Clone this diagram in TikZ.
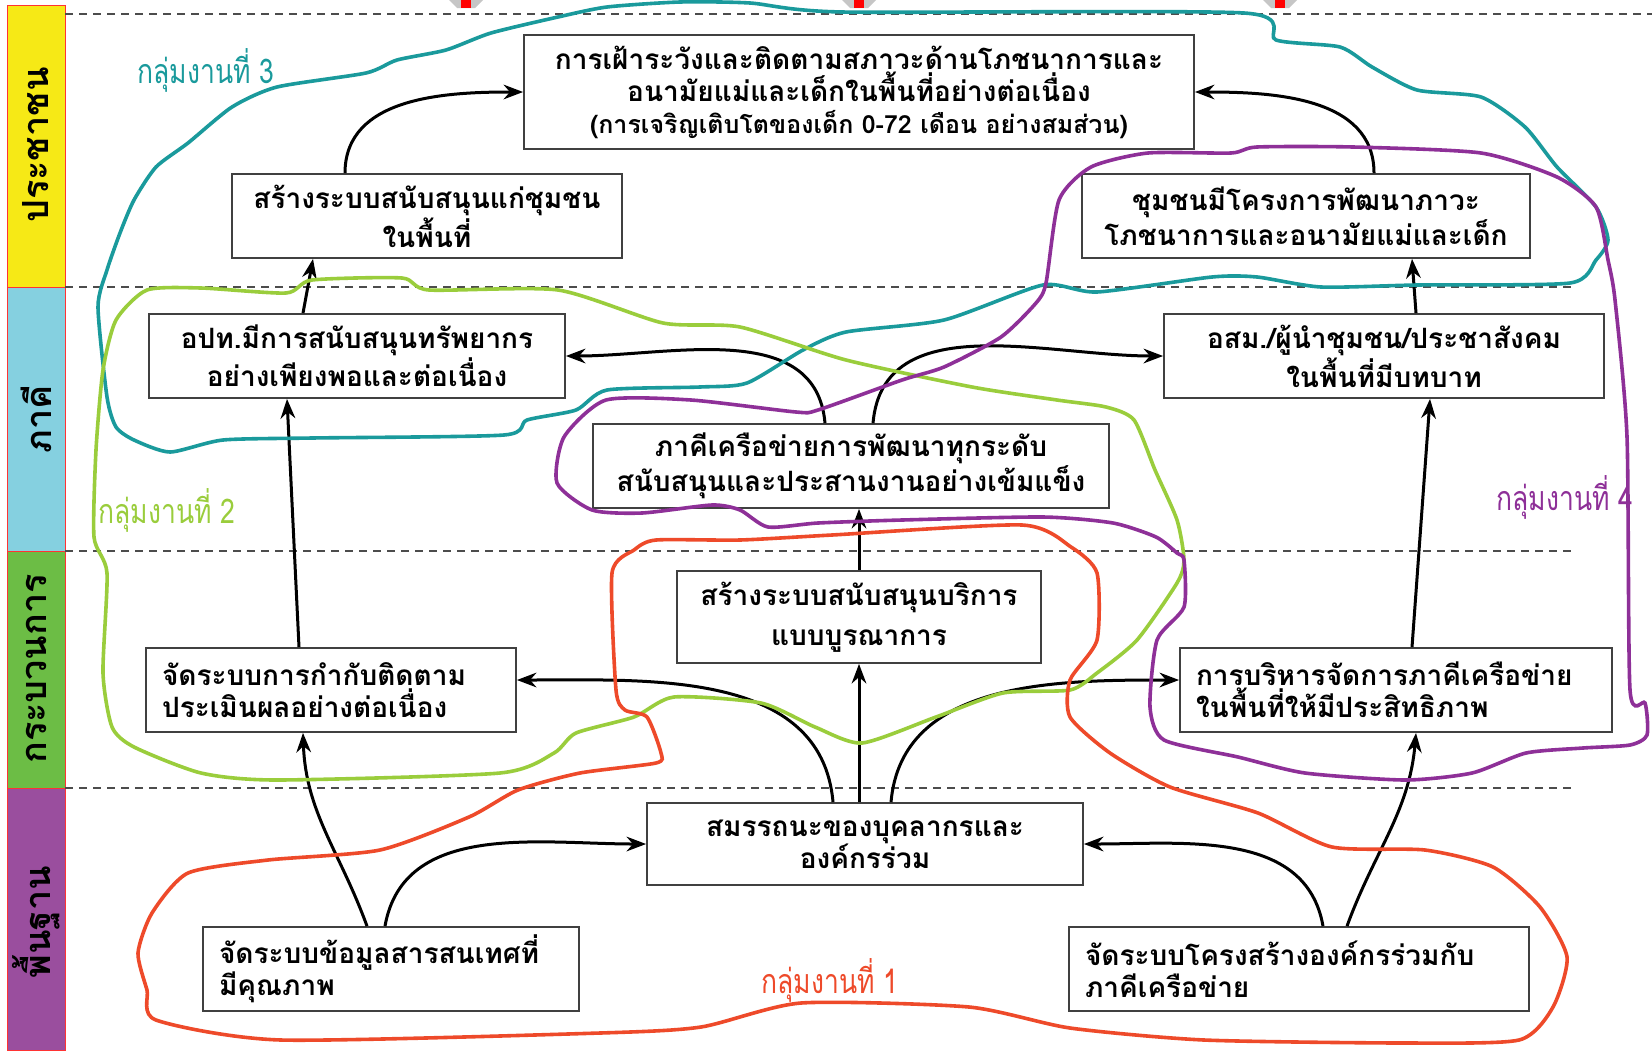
\documentclass[tikz,border=0pt]{standalone}
\usepackage{fontspec}
\newfontfamily\thaifont[Script=Thai]{Loma}
\newfontfamily\grpfont[Script=Thai,FakeStretch=0.78]{Loma}
\usetikzlibrary{arrows.meta, calc}
\definecolor{bandY}{HTML}{F6E916}
\definecolor{bandC}{HTML}{85D0E0}
\definecolor{bandG}{HTML}{6CBD45}
\definecolor{bandP}{HTML}{9A4E9E}
\definecolor{grpT}{HTML}{1A9A9C}
\definecolor{grpG}{HTML}{9ACD3C}
\definecolor{grpR}{HTML}{EE4A2A}
\definecolor{grpP}{HTML}{8E3098}

\begin{document}
\begin{tikzpicture}[>=Stealth, x=0.5pt, y=-0.5pt,
  box/.style={draw=black!75, line width=0.9pt, fill=white, inner sep=0, align=center,
    font=\thaifont\bfseries\fontsize{14}{16}\selectfont},
  lbox/.style={box, align=left, inner xsep=8pt},
  flow/.style={->, line width=1.5pt},
  sep/.style={dashed, gray!60!black, line width=0.9pt, dash pattern=on 4pt off 3pt},
  bandlbl/.style={rotate=90, font=\thaifont\bfseries\fontsize{18}{18}\selectfont},
  grp/.style={line width=1.8pt},
  grplbl/.style={font=\grpfont\fontsize{17}{17}\selectfont}]
  \useasboundingbox (0,0) rectangle (1652,1050);
  \fill[white] (0,0) rectangle (1652,1050);
  % bands
  \foreach \ya/\yb/\c in {5/287/bandY, 287/551/bandC, 551/788/bandG, 788/1050/bandP}{
    \filldraw[fill=\c, draw=red!80, line width=0.5pt] (7,\ya) rectangle (65,\yb);
  }
  \node[bandlbl] (people) at (36,145) {ประชาชน};
  \node[bandlbl] (partners) at (36,419) {ภาคี};
  \node[bandlbl] (process) at (36,669) {กระบวนการ};
  \node[bandlbl] (basis) at (36,922) {พื้นฐาน};
  \draw[sep] (65,14) -- (1652,14);
  \foreach \y in {287,551,788}{ \draw[sep] (65,\y) -- (1575,\y); }
  \foreach \x in {466,859,1280}{
    \fill[gray!45] (\x-17,0) -- (\x+17,0) -- (\x+9,8) -- (\x-9,8) -- cycle;
    \fill[red] (\x-5,0) rectangle (\x+5,8);
  }
  % nodes
  \node[box, minimum width=335pt, minimum height=57pt] (watch) at (859,92)
    {การเฝ้าระวังและติดตามสภาวะด้านโภชนาการและ\\อนามัยแม่และเด็กในพื้นที่อย่างต่อเนื่อง\\
     {\fontsize{12.5}{16}\selectfont(การเจริญเติบโตของเด็ก 0-72 เดือน อย่างสมส่วน)}};
  \node[box, minimum width=195pt, minimum height=42pt] (commsup) at (427,216)
    {สร้างระบบสนับสนุนแก่ชุมชน\\ในพื้นที่};
  \node[box, minimum width=224pt, minimum height=42pt] (commproj) at (1306,216)
    {ชุมชนมีโครงการพัฒนาภาวะ\\โภชนาการและอนามัยแม่และเด็ก};
  \node[box, minimum width=208pt, minimum height=42pt] (lao) at (357,356)
    {อปท.มีการสนับสนุนทรัพยากร\\อย่างเพียงพอและต่อเนื่อง};
  \node[box, minimum width=220pt, minimum height=42pt] (vhv) at (1384,356)
    {อสม./ผู้นำชุมชน/ประชาสังคม\\ในพื้นที่มีบทบาท};
  \node[box, minimum width=258pt, minimum height=42pt] (partner) at (851,466)
    {ภาคีเครือข่ายการพัฒนาทุกระดับ\\สนับสนุนและประสานงานอย่างเข้มแข็ง};
  \node[box, minimum width=182pt, minimum height=46pt] (service) at (859,617)
    {สร้างระบบสนับสนุนบริการ\\[4pt]แบบบูรณาการ};
  \node[lbox, text width=169pt, minimum height=42pt] (evalsys) at (331,690)
    {จัดระบบการกำกับติดตาม\\ประเมินผลอย่างต่อเนื่อง};
  \node[lbox, text width=200pt, minimum height=42pt] (netmgmt) at (1396,690)
    {การบริหารจัดการภาคีเครือข่าย\\ในพื้นที่ให้มีประสิทธิภาพ};
  \node[box, minimum width=218pt, minimum height=41pt] (staff) at (865,844)
    {สมรรถนะของบุคลากรและ\\องค์กรร่วม};
  \node[lbox, text width=172pt, minimum height=42pt] (infosys) at (391,969)
    {จัดระบบข้อมูลสารสนเทศที่\\มีคุณภาพ};
  \node[lbox, text width=214pt, minimum height=42pt] (orgstruct) at (1299,969)
    {จัดระบบโครงสร้างองค์กรร่วมกับ\\ภาคีเครือข่าย};
  % arrows
  \draw[flow] ([xshift=-41pt]commsup.north) to[out=90,in=180] (watch.west);
  \draw[flow] ([xshift=34pt]commproj.north) to[out=90,in=0] (watch.east);
  \draw[flow] ([xshift=-27pt]lao.north) -- ([xshift=-57pt]commsup.south);
  \draw[flow] ([xshift=16pt]vhv.north) -- ([xshift=53pt]commproj.south);
  \draw[flow] ([xshift=-13pt]partner.north) to[out=95,in=0] (lao.east);
  \draw[flow] ([xshift=11pt]partner.north) to[out=85,in=180] (vhv.west);
  \draw[flow] ([xshift=-16pt]evalsys.north) -- ([xshift=-35pt]lao.south);
  \draw[flow] ([xshift=8pt]netmgmt.north) -- ([xshift=23pt]vhv.south);
  \draw[flow] (service.north) -- (service.north |- partner.south);
  \draw[flow] ([xshift=-16pt]staff.north) to[out=95,in=0] ([yshift=5pt]evalsys.east);
  \draw[flow] (service.south |- staff.north) -- (service.south);
  \draw[flow] ([xshift=13pt]staff.north) to[out=85,in=180] ([yshift=5pt]netmgmt.west);
  \draw[flow] ([xshift=-12pt]infosys.north) to[out=110,in=-88] ([xshift=-14pt]evalsys.south);
  \draw[flow] ([xshift=-3pt]infosys.north) to[out=80,in=180] (staff.west);
  \draw[flow] ([xshift=12pt]orgstruct.north) to[out=100,in=0] (staff.east);
  \draw[flow] ([xshift=24pt]orgstruct.north) to[out=70,in=-95] ([xshift=10pt]netmgmt.south);
  % work groups
  \draw[grp, grpT] plot[smooth cycle, tension=0.4] coordinates {(607,7) (680,2) (750,3) (842,12)
    (1244,13) (1276,40) (1340,47) (1372,67) (1417,90) (1481,97) (1525,127) (1557,167) (1596,207)
    (1608,240) (1596,260) (1570,283) (1417,285) (1321,287) (1257,277) (1212,277) (1097,292)
    (1043,285) (944,320) (846,332) (803,350) (747,383) (700,387) (607,390) (576,410) (527,420)
    (504,435) (312,438) (223,440) (170,452) (134,440) (116,427) (107,397) (98,307) (107,270)
    (120,233) (134,200) (156,167) (188,143) (232,107) (277,87) (366,73) (397,60) (446,50)
    (491,33) (558,17)};
  \draw[grp, grpG] plot[smooth cycle, tension=0.4] coordinates {(147,290) (201,288) (286,293)
    (312,280) (402,278) (429,290) (558,290) (663,323) (740,327) (846,360) (972,387) (1057,400)
    (1106,407) (1134,420) (1155,470) (1177,520) (1184,560) (1177,583) (1137,640) (1097,673)
    (1070,690) (1003,693) (936,717) (862,743) (815,727) (761,703) (674,697) (634,717) (576,733)
    (554,753) (500,773) (277,780) (201,773) (134,747) (112,727) (103,673) (107,573) (94,537)
    (96,450) (103,370) (116,320)};
  \draw[grp, grpR] plot[smooth cycle, tension=0.4] coordinates {(656,540) (740,540) (832,535)
    (1022,525) (1071,547) (1097,573) (1097,640) (1070,680) (1070,717) (1110,753) (1170,787)
    (1258,813) (1332,847) (1425,850) (1493,867) (1540,907) (1567,957) (1553,1007) (1519,1040)
    (1405,1043) (1204,1040) (1070,1028) (969,1007) (801,1003) (701,1027) (600,1033) (281,1040)
    (156,1020) (147,990) (138,953) (152,913) (188,873) (268,860) (380,850) (469,817) (518,790)
    (580,773) (656,763) (661,753) (647,717) (625,710) (616,690) (612,573) (634,550)};
  \draw[grp, grpP] plot[smooth cycle, tension=0.4] coordinates {(1046,283) (1059,200) (1091,167)
    (1148,153) (1231,153) (1257,147) (1353,147) (1481,153) (1557,177) (1596,207) (1608,260)
    (1615,300) (1627,437) (1630,690) (1645,703) (1647,735) (1630,745) (1583,748) (1526,753)
    (1472,773) (1405,780) (1305,773) (1238,757) (1164,740) (1150,707) (1157,640) (1184,607)
    (1184,560) (1177,553) (1156,537) (1113,523) (1043,517) (902,520) (818,523) (768,527)
    (740,510) (712,505) (642,513) (592,510) (557,483) (564,437) (606,400) (691,400) (796,412)
    (818,410) (902,380) (944,367) (1001,337) (1036,303)};
  \node[grplbl, grpT] (g3) at (206,70) {กลุ่มงานที่ 3};
  \node[grplbl, grpG] (g2) at (167,510) {กลุ่มงานที่ 2};
  \node[grplbl, grpR] (g1) at (830,980) {กลุ่มงานที่ 1};
  \node[grplbl, grpP] (g4) at (1565,497) {กลุ่มงานที่ 4};
\end{tikzpicture}
\end{document}
